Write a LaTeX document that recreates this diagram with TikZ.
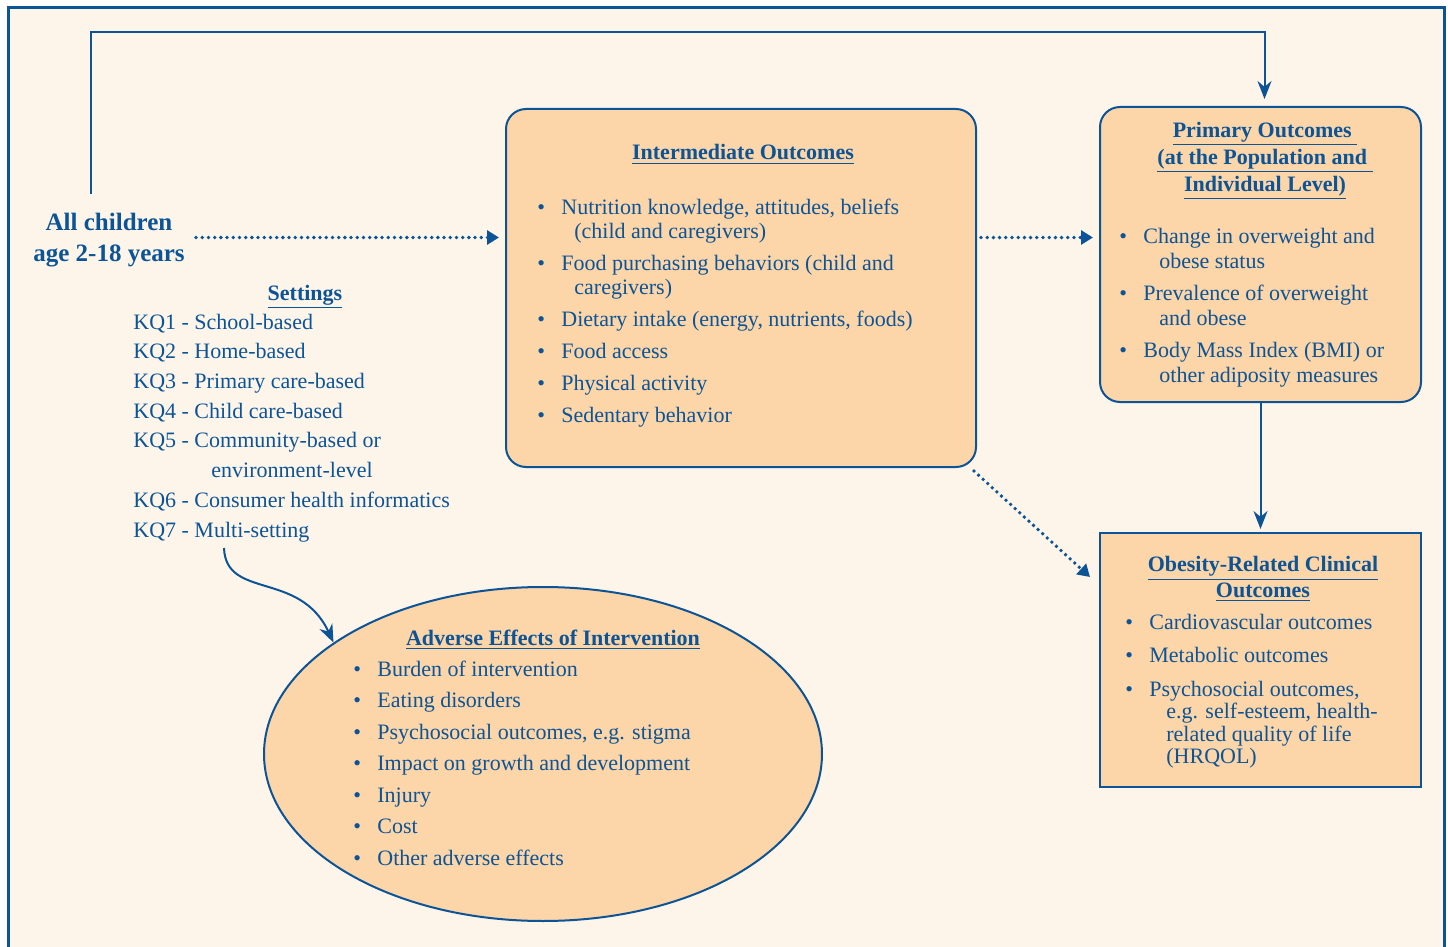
\documentclass[tikz,border=0pt]{standalone}
\usepackage{fontspec}
\setmainfont{Liberation Serif}
\usepackage{tikz}
\usetikzlibrary{arrows.meta,positioning,shapes.geometric}
\definecolor{frameblue}{RGB}{13,84,150}
\definecolor{boxpeach}{RGB}{252,213,168}
\definecolor{panelcream}{RGB}{253,245,234}

\newcommand{\bul}{\makebox[12pt][l]{\textbullet}}
\newcommand{\cont}[1][20pt]{\hspace*{#1}}
\newcommand{\ttl}[1]{\underline{#1}}

\begin{document}
\begin{tikzpicture}[x=0.5pt,y=-0.5pt,
    flow/.style={frameblue,line width=1pt,-{Stealth[length=9pt,width=7pt]}},
    dots/.style={frameblue,line width=1.9pt,line cap=round,dash pattern=on 0pt off 3.1pt,-{Triangle[length=6pt,width=7pt]}},
    roundbox/.style={draw=frameblue,fill=boxpeach,line width=1pt,rounded corners=10pt,inner sep=0pt},
    sqbox/.style={draw=frameblue,fill=boxpeach,line width=1pt,inner sep=0pt},
    listtext/.style={text=frameblue,align=left,anchor=north west,inner sep=0pt,font=\fontsize{11}{#1}\selectfont},
    listtext/.default=12,
    titletext/.style={text=frameblue,align=center,inner sep=0pt,font=\fontsize{11}{#1}\selectfont\bfseries},
    titletext/.default=13.5]
    \useasboundingbox (0,0) rectangle (1448,947);
    \fill[white] (0,0) rectangle (1448,947);

    % panel frame, runs off the bottom
    \draw[frameblue,line width=1.5pt,fill=panelcream] (8,8) rectangle (1444,990);

    % boxes
    \node[roundbox,minimum width=235pt,minimum height=179pt] (inter) at (741,288) {};
    \node[roundbox,minimum width=160.5pt,minimum height=147.5pt] (prim) at (1260.5,254.5) {};
    \node[sqbox,minimum width=160.5pt,minimum height=127pt] (clin) at (1260.5,660) {};
    \node[ellipse,draw=frameblue,fill=boxpeach,line width=1pt,inner sep=0pt,
          minimum width=279pt,minimum height=167pt] (adv) at (543,754) {};

    % population and settings
    \node[text=frameblue,align=center,anchor=north,inner sep=0pt,
          font=\fontsize{12.5}{15.5}\selectfont\bfseries] (children) at (109,208)
      {\strut All children\\age 2-18 years};
    \node[titletext,anchor=base] (settitle) at (305,300) {\ttl{Settings}};
    \node[listtext=14.85] (setlist) at (133,308) {\strut KQ1 - School-based\\
      KQ2 - Home-based\\
      KQ3 - Primary care-based\\
      KQ4 - Child care-based\\
      KQ5 - Community-based or\\
      \cont[39pt]environment-level\\
      KQ6 - Consumer health informatics\\
      KQ7 - Multi-setting};
    \coordinate (kqend) at (224,548);

    % intermediate outcomes
    \node[titletext,anchor=base] (intertitle) at (743,160) {\ttl{Intermediate Outcomes}};
    \node[listtext] (interlist) at (537,197) {\strut\bul Nutrition knowledge, attitudes, beliefs\\
      \cont[18.5pt](child and caregivers)\\[4pt]
      \bul Food purchasing behaviors (child and\\
      \cont[18.5pt]caregivers)\\[4pt]
      \bul Dietary intake (energy, nutrients, foods)\\[4pt]
      \bul Food access\\[4pt]
      \bul Physical activity\\[4pt]
      \bul Sedentary behavior};

    % primary outcomes
    \node[titletext,anchor=north] (primtitle) at (1265,118)
      {\strut\ttl{Primary Outcomes\ }\\\ttl{(at the Population and\ }\\\ttl{Individual Level)}};
    \node[listtext=12.5] (primlist) at (1119,226) {\strut\bul Change in overweight and\\
      \cont obese status\\[3.5pt]
      \bul Prevalence of overweight\\
      \cont and obese\\[3.5pt]
      \bul Body Mass Index (BMI) or\\
      \cont other adiposity measures};

    % clinical outcomes
    \node[titletext=13,anchor=north] (clintitle) at (1263,553)
      {\strut\ttl{Obesity-Related Clinical}\\\ttl{Outcomes}};
    \node[listtext=11.25] (clinlist) at (1125,613) {\strut\bul Cardiovascular outcomes\\[5.5pt]
      \bul Metabolic outcomes\\[5.5pt]
      \bul Psychosocial outcomes,\\
      \cont[20.5pt]e.g. self-esteem, health-\\
      \cont[20.5pt]related quality of life\\
      \cont[20.5pt](HRQOL)};

    % adverse effects
    \node[titletext,anchor=base] (advtitle) at (553,645) {\ttl{Adverse Effects of Intervention}};
    \node[listtext] (advlist) at (353,659) {\strut\bul Burden of intervention\\[3.75pt]
      \bul Eating disorders\\[3.75pt]
      \bul Psychosocial outcomes, e.g. stigma\\[3.75pt]
      \bul Impact on growth and development\\[3.75pt]
      \bul Injury\\[3.75pt]
      \bul Cost\\[3.75pt]
      \bul Other adverse effects};

    % connectors
    \coordinate (topleft) at (91,32);
    \draw[flow] ([xshift=-9pt,yshift=7pt]children.north) -- (topleft) -| ([xshift=2pt,yshift=3.5pt]prim.north);
    \draw[dots] ([xshift=5.5pt]children.east) -- ([xshift=-3pt]children.east -| inter.west);
    \draw[dots] ([xshift=2pt]inter.east |- children.east) -- ([xshift=-3pt]prim.west |- children.east);
    \draw[dots] ([shift={(-1.5pt,-1.5pt)}]inter.south east) -- ([shift={(-4.5pt,-22.5pt)}]clin.north west);
    \draw[flow] (prim.south) -- ([yshift=1.5pt]clin.north);
    \draw[flow] (kqend) .. controls (226,600) and (300,570) .. (adv.152);
\end{tikzpicture}
\end{document}
